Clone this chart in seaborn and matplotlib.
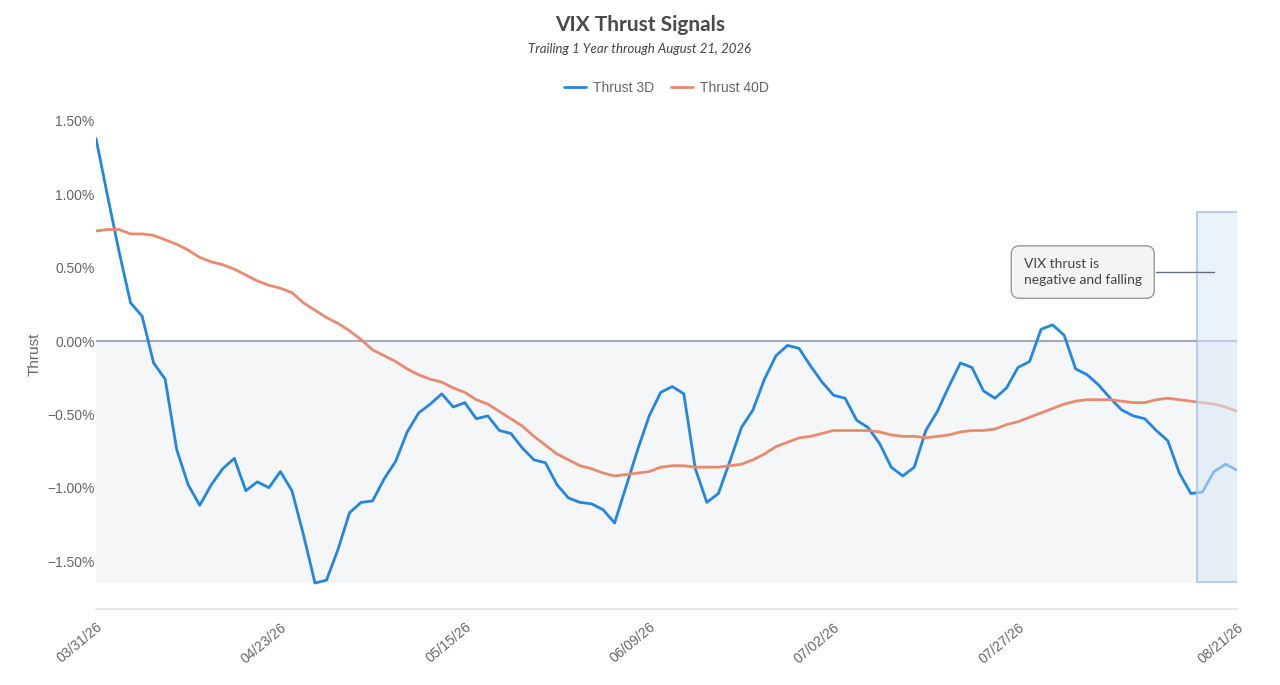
import pandas as pd
import matplotlib.pyplot as plt
import matplotlib.patches as mpatches
from matplotlib.ticker import FuncFormatter
import seaborn as sns

# tick labels (every 16 trading days, last one is the final day)
tick_pos = [0, 16, 32, 48, 64, 80, 99]
tick_labels = ['03/31/26', '04/23/26', '05/15/26', '06/09/26', '07/02/26', '07/27/26', '08/21/26']

# values in percent
thrust_3d = [
    1.38, 0.99, 0.61, 0.26, 0.17, -0.15, -0.26, -0.74, -0.98, -1.12,
    -0.98, -0.87, -0.80, -1.02, -0.96, -1.00, -0.89, -1.02, -1.32, -1.65,
    -1.63, -1.42, -1.17, -1.10, -1.09, -0.94, -0.82, -0.62, -0.49, -0.43,
    -0.36, -0.45, -0.42, -0.53, -0.51, -0.61, -0.63, -0.73, -0.81, -0.83,
    -0.98, -1.07, -1.10, -1.11, -1.15, -1.24, -0.99, -0.74, -0.51, -0.35,
    -0.31, -0.36, -0.87, -1.10, -1.04, -0.82, -0.59, -0.47, -0.26, -0.10,
    -0.03, -0.05, -0.17, -0.28, -0.37, -0.39, -0.54, -0.59, -0.70, -0.86,
    -0.92, -0.86, -0.61, -0.48, -0.31, -0.15, -0.18, -0.34, -0.39, -0.32,
    -0.18, -0.14, 0.08, 0.11, 0.04, -0.19, -0.23, -0.30, -0.39, -0.47,
    -0.51, -0.53, -0.61, -0.68, -0.90, -1.04, -1.03, -0.89, -0.84, -0.88,
]
thrust_40d = [
    0.75, 0.76, 0.76, 0.73, 0.73, 0.72, 0.69, 0.66, 0.62, 0.57,
    0.54, 0.52, 0.49, 0.45, 0.41, 0.38, 0.36, 0.33, 0.26, 0.21,
    0.16, 0.12, 0.07, 0.01, -0.06, -0.10, -0.14, -0.19, -0.23, -0.26,
    -0.28, -0.32, -0.35, -0.40, -0.43, -0.48, -0.53, -0.58, -0.65, -0.71,
    -0.77, -0.81, -0.85, -0.87, -0.90, -0.92, -0.91, -0.90, -0.89, -0.86,
    -0.85, -0.85, -0.86, -0.86, -0.86, -0.85, -0.84, -0.81, -0.77, -0.72,
    -0.69, -0.66, -0.65, -0.63, -0.61, -0.61, -0.61, -0.61, -0.62, -0.64,
    -0.65, -0.65, -0.66, -0.65, -0.64, -0.62, -0.61, -0.61, -0.60, -0.57,
    -0.55, -0.52, -0.49, -0.46, -0.43, -0.41, -0.40, -0.40, -0.40, -0.41,
    -0.42, -0.42, -0.40, -0.39, -0.40, -0.41, -0.42, -0.43, -0.45, -0.48,
]

df = pd.DataFrame({
    'day': list(range(len(thrust_3d))) * 2,
    'value': thrust_3d + thrust_40d,
    'series': ['Thrust 3D'] * len(thrust_3d) + ['Thrust 40D'] * len(thrust_40d),
})

sns.set_style('white')
plt.rcParams['font.family'] = ['Lato', 'DejaVu Sans']

fig = plt.figure(figsize=(12.8, 6.85), dpi=100)
ax = fig.add_axes([0.075, 0.1109, 0.8914, 0.7446])

n = len(thrust_3d) - 1
# shaded negative zone
ax.fill_between([0, n], [0, 0], [-1.65, -1.65], color='#f5f6f8', zorder=0, lw=0)
ax.axhline(0, color='#a4acbc', lw=1.5, zorder=1)

sns.lineplot(data=df, x='day', y='value', hue='series',
             palette={'Thrust 3D': '#2187e3', 'Thrust 40D': '#ea8a6c'},
             linewidth=2, ax=ax, zorder=3)

# highlight of last days
ax.add_patch(mpatches.Rectangle((95.5, -1.645), 3.6, 2.525,
                                facecolor='#d9e8f7', alpha=0.55, edgecolor='none', zorder=4))
ax.add_patch(mpatches.Rectangle((95.5, -1.645), 3.6, 2.525,
                                facecolor='none', edgecolor='#a6c8ea', lw=1.2, zorder=5))

# callout
ax.plot([92.0, 97.0], [0.47, 0.47], color='#607080', lw=1, zorder=5)
ax.text(80.5, 0.47, 'VIX thrust is\nnegative and falling', ha='left', va='center',
        fontsize=10, color='#444444', linespacing=1.35, zorder=6,
        bbox=dict(boxstyle='round,pad=0.9,rounding_size=0.6', fc='#f4f4f4', ec='#9a9a9a', lw=1))

ax.set_xlim(0, n)
ax.set_ylim(-1.827, 1.65)
ax.set_yticks([1.5, 1.0, 0.5, 0.0, -0.5, -1.0, -1.5])
ax.yaxis.set_major_formatter(FuncFormatter(lambda v, p: f'{v:.2f}%'.replace('-', '\u2212')))
ax.set_xticks(tick_pos)
ax.set_xticklabels(tick_labels, rotation=40, ha='right', va='top', rotation_mode='anchor')
ax.tick_params(axis='both', length=0, labelsize=10, colors='#666666')
ax.tick_params(axis='x', pad=8)
ax.tick_params(axis='y', pad=1)
for lab in ax.get_xticklabels() + ax.get_yticklabels():
    lab.set_family(['Liberation Sans', 'DejaVu Sans'])

ax.set_xlabel('')
ax.set_ylabel('Thrust', fontsize=11, color='#666666', labelpad=4)
ax.yaxis.label.set_family(['Liberation Sans', 'DejaVu Sans'])

for s in ['top', 'right', 'left']:
    ax.spines[s].set_visible(False)
ax.spines['bottom'].set_color('#e2e2e2')
ax.spines['bottom'].set_linewidth(1.2)

leg = ax.legend(loc='center', bbox_to_anchor=(0.5, 1.0216), ncol=2, frameon=False,
                fontsize=10, handlelength=1.6, columnspacing=1.2, handletextpad=0.5)
for t in leg.get_texts():
    t.set_color('#666666')
    t.set_family(['Liberation Sans', 'DejaVu Sans'])

fig.text(0.5, 1 - 25 / 685, 'VIX Thrust Signals', ha='center', va='center',
         fontsize=15, fontweight='bold', color='#4a4a4a')
fig.text(0.5, 1 - 49 / 685, 'Trailing 1 Year through August 21, 2026', ha='center', va='center',
         fontsize=9.5, style='italic', color='#444444')

fig.savefig('out.png', dpi=100)
